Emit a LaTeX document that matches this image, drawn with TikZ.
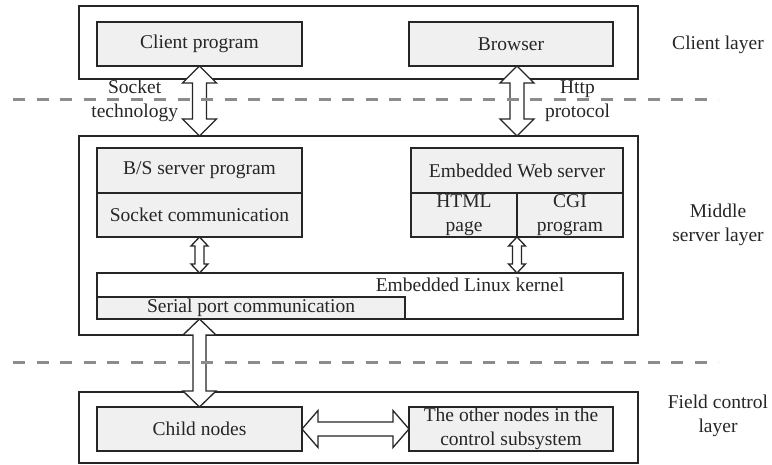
\documentclass[tikz,border=0pt]{standalone}
\usepackage{fontspec}
\setmainfont{Liberation Serif}
\usetikzlibrary{calc, positioning}

% block arrow with a head at both ends: start, end, head length, head half width, shaft half width
\newcommand{\fatarrow}[5]{%
  \path #1 coordinate (fa) #2 coordinate (fb);
  \draw[fat] (fa)
    -- ($(fa)!#3!(fb)!#4!90:(fb)$)
    -- ($(fa)!#3!(fb)!#5!90:(fb)$)
    -- ($(fb)!#3!(fa)!#5!-90:(fa)$)
    -- ($(fb)!#3!(fa)!#4!-90:(fa)$)
    -- (fb)
    -- ($(fb)!#3!(fa)!#4!90:(fa)$)
    -- ($(fb)!#3!(fa)!#5!90:(fa)$)
    -- ($(fa)!#3!(fb)!#5!-90:(fb)$)
    -- ($(fa)!#3!(fb)!#4!-90:(fb)$)
    -- cycle;
}

\begin{document}
\begin{tikzpicture}[
            x = 1pt, y = -1pt, % pixel grid, y downwards
            font = \fontsize{19.5}{24}\selectfont,
            text = black!85,
            every node/.style = {inner sep = 0pt, outer sep = 0pt, align = center}
        ]

        \tikzstyle{layer}=[
            draw = black!85,
            line width = 1.5pt,
            fill = white
        ]
        \tikzstyle{unit}=[
            draw = black!85,
            line width = 1.5pt,
            fill = black!6,
            minimum height = 44pt
        ]
        \tikzstyle{fat}=[
            draw = black!85,
            line width = 1.3pt,
            fill = white,
            line join = miter
        ]
        \tikzstyle{border}=[
            draw = black!45,
            line width = 3pt,
            dash pattern = on 12pt off 11.5pt
        ]

        \useasboundingbox (0,0) rectangle (772,465);

        % client layer
        \node[layer, minimum width = 559pt, minimum height = 73pt] (client) at (358.5,42.5) {};
        \node[unit, minimum width = 205pt] (cp) at (199.5,44) {Client program};
        \node[unit, minimum width = 204pt] (br) at (511,44) {Browser};
        \node (clientlbl) at (718,45) {Client layer};

        % middle server layer
        \node[layer, minimum width = 559pt, minimum height = 199pt] (mid) at (358.5,235.5) {};
        \node[unit, minimum width = 205pt, minimum height = 45pt] (bs) at (199.5,170.5) {B/S server program};
        \node[unit, minimum width = 205pt, below = 0pt of bs] (sc) {Socket communication};
        \node[unit, minimum width = 212pt, minimum height = 45pt] (ews) at (517,170.5) {Embedded Web server};
        \node[unit, minimum width = 106pt, below = 0pt of ews.south west, anchor = north west] (html) {HTML\\page};
        \node[unit, minimum width = 106pt, right = 0pt of html] (cgi) {CGI\\program};
        \node[layer, minimum width = 526pt, minimum height = 46pt] (kernel) at (360,296) {};
        \node[unit, minimum width = 308pt, minimum height = 22pt, anchor = south west] (serial) at (kernel.south west) {Serial port communication};
        \node (kernellbl) at (470,285) {Embedded Linux kernel};
        \node (midlbl) at (718,225) {Middle\\server layer};

        % field control layer
        \node[layer, minimum width = 559pt, minimum height = 71pt] (field) at (358.5,427.5) {};
        \node[unit, minimum width = 205pt] (child) at (199.5,429) {Child nodes};
        \node[unit, minimum width = 204pt] (other) at (511,429) {The other nodes in the\\control subsystem};
        \node (fieldlbl) at (718,416) {Field control\\layer};

        % links between the layers
        \fatarrow{(cp.south)}{(cp.south |- mid.north)}{17pt}{17pt}{7pt}
        \fatarrow{(ews.north |- br.south)}{(ews.north |- mid.north)}{17pt}{17pt}{7pt}
        \fatarrow{(sc.south)}{(sc.south |- kernel.north)}{9pt}{8.5pt}{4.5pt}
        \fatarrow{(html.south east)}{(html.south east |- kernel.north)}{9pt}{8.5pt}{4.5pt}
        \fatarrow{(sc.south |- serial.south)}{(child.north)}{16pt}{16.5pt}{6.5pt}
        \fatarrow{(child.east)}{(other.west)}{16pt}{18.5pt}{7pt}

        \node[anchor = east] (socketlbl) at (178,101) {Socket\\technology};
        \node[anchor = west] (httplbl) at (545,101) {Http\\protocol};

        % layer borders
        \coordinate (b1l) at (13,100);
        \coordinate (b1r) at (718,100);
        \coordinate (b2l) at (13,363);
        \coordinate (b2r) at (718,363);
        \draw[border] (b1l) -- (b1r);
        \draw[border] (b2l) -- (b2r);

  \end{tikzpicture}
\end{document}
